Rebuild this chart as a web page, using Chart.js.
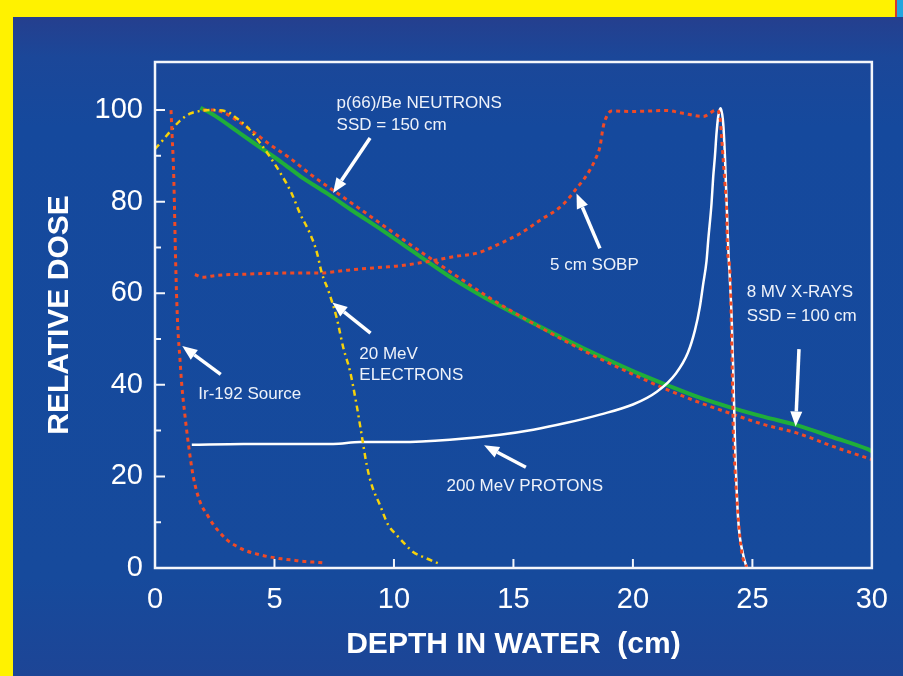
<!DOCTYPE html>
<html>
<head>
<meta charset="utf-8">
<script src="https://cdn.jsdelivr.net/npm/chart.js@4.4.1/dist/chart.umd.min.js"></script>
<style>
  html, body { margin: 0; padding: 0; }
  body { width: 903px; height: 676px; overflow: hidden; position: relative; background: #fff200; }
  #bg { position: absolute; left: 13px; top: 17px; right: 0; bottom: 0;
        background: linear-gradient(to bottom, #253f8e 0px, #1b4799 40px, #15499d 110px, #164a9c 560px, #1d4596 100%); }
  #corner { position: absolute; left: 895px; top: 0; width: 8px; height: 17px;
            background: linear-gradient(to right, #d63a2c 0 2px, #22a6df 2px); }
  canvas { position: absolute; left: 0; top: 0; }
</style>
</head>
<body>
<div id="bg"></div>
<div id="corner"></div>
<canvas id="chart" width="903" height="676"></canvas>
<script>
const X_TICKS = [0, 5, 10, 15, 20, 25, 30];
const Y_TICKS = [0, 20, 40, 60, 80, 100];
const Y_MINOR = [10, 30, 50, 70, 90];

// Ir-192 source
const IR_X = [0.67, 0.72, 0.77, 0.81, 0.85, 0.9, 0.96, 1.04, 1.12, 1.26, 1.4, 1.6, 1.88, 2.2, 2.44, 3.0, 3.4, 3.84, 4.3, 4.81, 5.3, 5.79, 6.3, 6.9, 7.1];
const IR_Y = [100, 94, 88, 80, 70, 60, 52, 46, 40, 33, 27, 20, 14.5, 11.5, 9.5, 6.2, 4.8, 3.7, 3.0, 2.4, 2.0, 1.7, 1.4, 1.2, 1.1];

// 20 MeV electrons
const EL_X = [0, 0.34, 0.63, 1.05, 1.46, 1.88, 2.3, 3.0, 3.42, 3.84, 4.46, 4.81, 5.3, 5.72, 6.07, 6.49, 6.77, 6.97, 7.28, 7.6, 7.88, 8.16, 8.44, 8.65, 8.86, 9.07, 9.41, 9.76, 10.11, 10.5, 10.8, 11.23, 11.9];
const EL_Y = [91.5, 93.5, 95.3, 97.7, 99.2, 99.8, 100, 99.7, 98.2, 96.4, 92.4, 89.8, 85.8, 81.8, 77.4, 73, 69, 64.6, 60.2, 54.7, 48.1, 43, 35.5, 29, 22.5, 18.1, 13.8, 9.4, 7.2, 5, 3.5, 2.4, 0.9];

// 8 MV x-rays, SSD 100 cm
const XR_X = [1.9, 2.5, 3.56, 4.5, 5.3, 6.07, 7.2, 8.3, 9.5, 10.5, 11.3, 12.34, 14.4, 16, 18, 20, 21.5, 22.8, 24, 25.5, 26.85, 28.4, 29.8, 30];
const XR_Y = [100.5, 98.8, 94.9, 91.5, 88.6, 85.6, 81.8, 77.9, 73.8, 70.2, 67.3, 63.6, 57.3, 53, 47.8, 43, 39.8, 37.2, 35.2, 33.0, 31.2, 28.5, 26.0, 25.5];

// p(66)/Be neutrons, SSD 150 cm
const NE_X = [2.0, 2.5, 2.9, 3.5, 4.1, 4.8, 5.65, 6.5, 7.45, 8.5, 9.5, 10.5, 11.3, 12.5, 14, 16, 18, 20, 21.5, 22.8, 24, 25.5, 26.85, 28.4, 30];
const NE_Y = [100, 100, 99.4, 97.5, 95.3, 92.5, 89.5, 86, 82.5, 78.7, 75.0, 71.3, 68.4, 64.2, 59.0, 52.9, 47.3, 42.3, 38.8, 36.1, 33.9, 31.3, 29.5, 26.5, 23.7];

// 5 cm SOBP
const SO_X = [1.67, 2.0, 2.58, 3.97, 5.37, 6.77, 8.16, 9.55, 10.25, 11.5, 12.5, 13.5, 14.5, 15.27, 16.1, 16.95, 17.36, 17.64, 17.92, 18.2, 18.45, 18.62, 18.76, 18.9, 19.1, 20.0, 21.4, 22.1, 22.94, 23.5, 23.64, 23.71, 23.78, 23.85, 23.92, 23.96, 24.06, 24.13, 24.17, 24.2, 24.27, 24.41, 24.55, 24.76];
const SO_Y = [64.1, 63.5, 63.9, 64.2, 64.4, 64.4, 65.1, 65.7, 66, 67, 68, 68.8, 71, 73, 75.9, 78.8, 81, 82.9, 84.7, 86.9, 89.5, 92, 96.4, 98.6, 99.8, 99.7, 99.9, 99.3, 98.6, 100, 98.6, 94.2, 89.1, 84, 78.1, 69.3, 65, 50.3, 39.3, 30, 21.8, 10.8, 3.5, 0.2];

// 200 MeV protons
const PR_X = [1.54, 3.7, 7.46, 8.58, 10.25, 12.34, 14.44, 15.83, 17.23, 18.62, 20.0, 21.0, 21.8, 22.3, 22.6, 22.8, 22.94, 23.08, 23.15, 23.29, 23.36, 23.43, 23.5, 23.57, 23.67, 23.78, 23.85, 23.99, 24.13, 24.2, 24.27, 24.4, 24.62, 24.76];
const PR_Y = [26.9, 27.1, 27.1, 27.5, 27.5, 28, 29.1, 30.2, 31.7, 33.5, 35.7, 38.5, 42.5, 47, 52, 57, 62, 67, 71.5, 79.6, 85.4, 89.8, 95, 98.6, 100.4, 97, 90, 70, 55, 43, 28, 11, 2.8, 0.2];

const LABELS = [
  { text: 'p(66)/Be NEUTRONS', x: 7.6, y: 101.4 },
  { text: 'SSD = 150 cm', x: 7.6, y: 96.6 },
  { text: '5 cm SOBP', x: 16.53, y: 66.1 },
  { text: '8 MV X-RAYS', x: 24.76, y: 60.2 },
  { text: 'SSD = 100 cm', x: 24.76, y: 54.9 },
  { text: '20 MeV', x: 8.55, y: 46.7 },
  { text: 'ELECTRONS', x: 8.55, y: 42.1 },
  { text: 'Ir-192 Source', x: 1.81, y: 37.9 },
  { text: '200 MeV PROTONS', x: 12.2, y: 17.9 }
];
// tail x, tail y, tip x, tip y
const ARROWS = [
  [9.0, 93.9, 7.45, 81.9],
  [18.62, 69.8, 17.64, 81.8],
  [26.95, 47.8, 26.81, 30.9],
  [9.02, 51.3, 7.42, 58.0],
  [2.75, 42.3, 1.14, 48.5],
  [15.52, 22.0, 13.77, 26.8]
];

const FONT = "'Liberation Sans', Arial, Helvetica, sans-serif";
const pts = (xs, ys) => xs.map((x, i) => ({ x, y: ys[i] }));

function drawArrow(ctx, x0, y0, x1, y1) {
  const ang = Math.atan2(y1 - y0, x1 - x0);
  const head = 15, half = 6;
  const bx = x1 - head * Math.cos(ang), by = y1 - head * Math.sin(ang);
  ctx.beginPath();
  ctx.moveTo(x0, y0);
  ctx.lineTo(bx, by);
  ctx.stroke();
  ctx.beginPath();
  ctx.moveTo(x1, y1);
  ctx.lineTo(bx + half * Math.sin(ang), by - half * Math.cos(ang));
  ctx.lineTo(bx - half * Math.sin(ang), by + half * Math.cos(ang));
  ctx.closePath();
  ctx.fill();
}

const decor = {
  id: 'decor',
  afterDatasetsDraw(chart) {
    const { ctx, chartArea: a, scales: { x, y } } = chart;
    ctx.save();
    ctx.strokeStyle = '#f4f6fb';
    ctx.lineWidth = 2.5;
    ctx.strokeRect(a.left, a.top, a.right - a.left, a.bottom - a.top);

    // inward ticks
    ctx.lineWidth = 2;
    ctx.beginPath();
    Y_TICKS.forEach(v => { const p = y.getPixelForValue(v); ctx.moveTo(a.left, p); ctx.lineTo(a.left + 10, p); });
    Y_MINOR.forEach(v => { const p = y.getPixelForValue(v); ctx.moveTo(a.left, p); ctx.lineTo(a.left + 6, p); });
    X_TICKS.slice(1, -1).forEach(v => { const p = x.getPixelForValue(v); ctx.moveTo(p, a.bottom); ctx.lineTo(p, a.bottom - 9); });
    ctx.stroke();

    // arrows
    ctx.strokeStyle = '#ffffff';
    ctx.fillStyle = '#ffffff';
    ctx.lineWidth = 3.5;
    ARROWS.forEach(([x0, y0, x1, y1]) => {
      drawArrow(ctx, x.getPixelForValue(x0), y.getPixelForValue(y0), x.getPixelForValue(x1), y.getPixelForValue(y1));
    });

    // labels
    ctx.fillStyle = '#eef2fa';
    ctx.font = '17px ' + FONT;
    ctx.textAlign = 'left';
    ctx.textBaseline = 'middle';
    LABELS.forEach(l => ctx.fillText(l.text, x.getPixelForValue(l.x), y.getPixelForValue(l.y)));
    ctx.restore();
  }
};

const RED = '#f04a25';

new Chart(document.getElementById('chart'), {
  type: 'line',
  data: {
    datasets: [
      { label: '8 MV X-RAYS', data: pts(XR_X, XR_Y), borderColor: '#1fae3a', borderWidth: 4, order: 6 },
      { label: 'p(66)/Be NEUTRONS', data: pts(NE_X, NE_Y), borderColor: RED, borderWidth: 3, borderDash: [4, 4], order: 5 },
      { label: '200 MeV PROTONS', data: pts(PR_X, PR_Y), borderColor: '#ffffff', borderWidth: 2.5, order: 4 },
      { label: '5 cm SOBP', data: pts(SO_X, SO_Y), borderColor: RED, borderWidth: 3, borderDash: [4, 4], order: 3 },
      { label: '20 MeV ELECTRONS', data: pts(EL_X, EL_Y), borderColor: '#f6d20a', borderWidth: 2.5, borderDash: [6, 4, 2, 4], order: 2 },
      { label: 'Ir-192 Source', data: pts(IR_X, IR_Y), borderColor: RED, borderWidth: 3, borderDash: [4, 4], order: 1 }
    ]
  },
  options: {
    responsive: false,
    animation: false,
    devicePixelRatio: 1,
    layout: { padding: { left: 0, top: 62, right: 31, bottom: 0 } },
    elements: {
      point: { radius: 0 },
      line: { cubicInterpolationMode: 'monotone', borderCapStyle: 'butt', fill: false }
    },
    plugins: { legend: { display: false }, tooltip: { enabled: false } },
    scales: {
      x: {
        type: 'linear', min: 0, max: 30,
        afterBuildTicks: s => { s.ticks = X_TICKS.map(v => ({ value: v })); },
        afterFit: s => { s.height = 108; },
        grid: { display: false, drawTicks: false },
        border: { display: false },
        ticks: { color: '#ffffff', font: { family: FONT, size: 29 }, padding: 15, maxRotation: 0, autoSkip: false },
        title: { display: true, text: 'DEPTH IN WATER  (cm)', color: '#ffffff', font: { family: FONT, size: 30, weight: 'bold' }, padding: { top: 0, bottom: 13 } }
      },
      y: {
        type: 'linear', min: 0, max: 110.5,
        afterBuildTicks: s => { s.ticks = Y_TICKS.map(v => ({ value: v })); },
        afterFit: s => { s.width = 155; },
        grid: { display: false, drawTicks: false },
        border: { display: false },
        ticks: { color: '#ffffff', font: { family: FONT, size: 29 }, padding: 12 },
        title: { display: true, text: 'RELATIVE DOSE', color: '#ffffff', font: { family: FONT, size: 30, weight: 'bold' }, padding: { top: 42, bottom: 0 } }
      }
    }
  },
  plugins: [decor]
});
</script>
</body>
</html>
